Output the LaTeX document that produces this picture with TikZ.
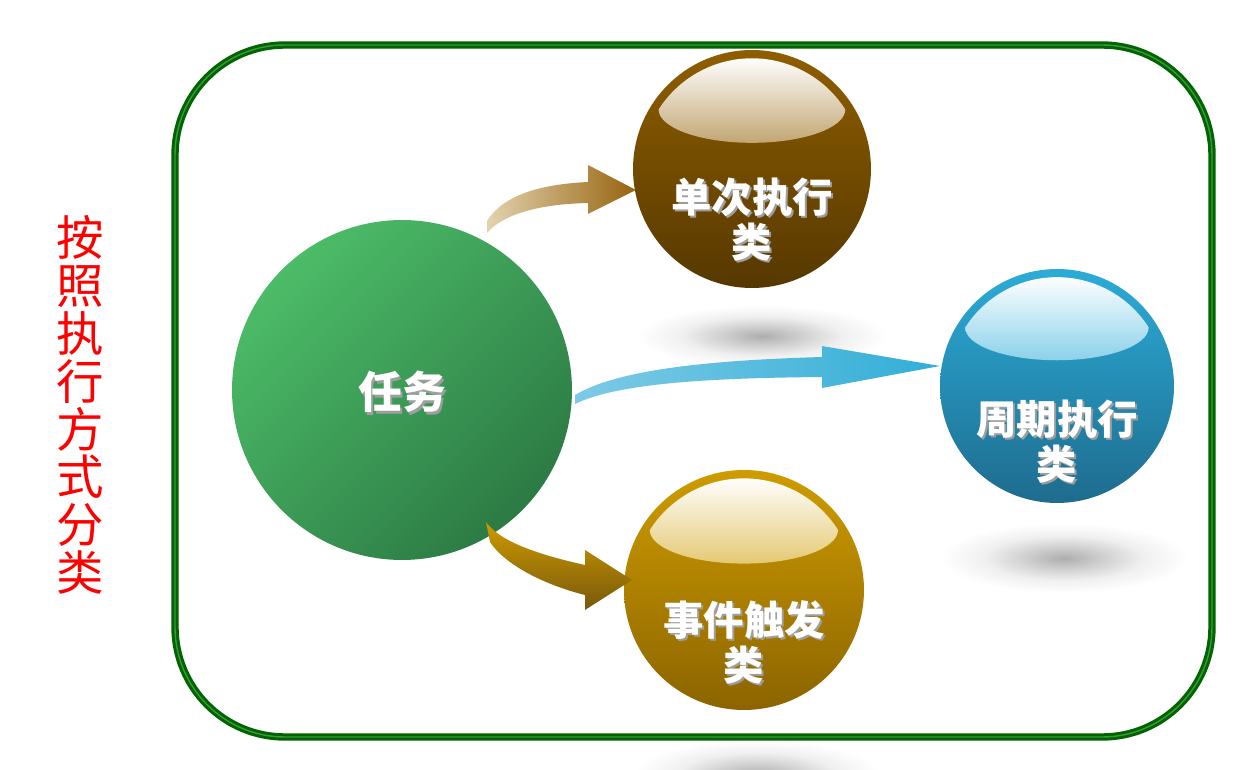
\documentclass[tikz,border=0pt]{standalone}
\usepackage{fontspec}
\newfontfamily\cjk{Noto Sans CJK SC}
\usepackage{tikz}
\usetikzlibrary{calc}
\definecolor{frameD}{RGB}{0,100,0}
\definecolor{frameL}{RGB}{60,150,60}
\definecolor{taskL}{RGB}{76,188,104}
\definecolor{taskD}{RGB}{44,122,68}
\definecolor{onceT}{RGB}{142,94,0}
\definecolor{onceB}{RGB}{86,56,0}
\definecolor{periodT}{RGB}{44,172,216}
\definecolor{periodB}{RGB}{30,108,142}
\definecolor{eventT}{RGB}{206,156,0}
\definecolor{eventB}{RGB}{140,100,0}
\definecolor{arrTanL}{RGB}{228,210,175}
\definecolor{arrTanR}{RGB}{150,100,15}
\definecolor{arrBlueL}{RGB}{125,202,230}
\definecolor{arrBlueR}{RGB}{50,174,214}
\definecolor{arrGoldT}{RGB}{205,155,0}
\definecolor{arrGoldB}{RGB}{120,88,12}
\definecolor{sideRed}{RGB}{255,0,0}
\pgfdeclareradialshading{floorshade}{\pgfpoint{0bp}{0bp}}{color(0bp)=(black!32); color(7bp)=(black!20); color(16bp)=(black!6); color(25bp)=(white); color(50bp)=(white)}

\begin{document}
\begin{tikzpicture}[
    x=0.02cm, y=-0.02cm,
    ball/.style={circle, inner sep=0pt},
    tag/.style={font=\cjk\bfseries\fontsize{23}{25.6}\selectfont, text=white, align=center},
    tagsh/.style={tag, text=black!38},
    floor/.style={shading=floorshade},
    frame/.style={draw=frameD, double=frameL, double distance=0.8pt, line width=1.7pt, rounded corners=2.2cm}
]
    \useasboundingbox (0,0) rectangle (1249,770);

    \begin{scope}
        \clip (0,0) rectangle (1249,770);
        \shade[floor] (762,336) ellipse [x radius=125, y radius=31];
        \shade[floor] (1064,558) ellipse [x radius=124, y radius=35];
        \shade[floor] (757,775) ellipse [x radius=124, y radius=35];
    \end{scope}

    \draw[frame] (175,45) rectangle (1212,737);

    \node[font=\cjk\fontsize{27}{27.2}\selectfont, text=sideRed, align=center] (side) at (80,405)
        {按\\照\\执\\行\\方\\式\\分\\类};

    \node[ball, minimum size=6.8cm, top color=taskL, bottom color=taskD, shading angle=45] (task) at (402,390) {};
    \node[ball, minimum size=4.76cm, top color=onceT, bottom color=onceB] (once) at (752,169) {};
    \node[ball, minimum size=4.68cm, top color=periodT, bottom color=periodB] (period) at (1057,386) {};
    \node[ball, minimum size=4.8cm, top color=eventT, bottom color=eventB] (event) at (744,590) {};

    \foreach \n/\r/\c in {once/119/onceT, period/117/periodT, event/120/eventT}
        \shade[top color=white, bottom color=\c!55!white] ($(\n.center)+(0.784*\r,-0.5*\r)$)
            arc[start angle=-32.5, end angle=-147.5, radius=0.93*\r]
            arc[start angle=180, end angle=0, x radius=0.784*\r, y radius=0.28*\r] -- cycle;

    \coordinate (onceTail) at (487,233);
    \coordinate (onceTip) at (636,190);
    \coordinate (periodTail) at (575,404);
    \coordinate (periodTip) at (940,366);
    \coordinate (eventTail) at (486,522);
    \coordinate (eventTip) at (632,580);

    \shade[left color=arrTanL, right color=arrTanR] (487,221) .. controls (505,192) and (548,184) .. (588,182)
        -- (588,165) -- (onceTip) -- (588,214) -- (588,203) .. controls (545,204) and (505,212) .. (onceTail) -- cycle;
    \shade[left color=arrBlueL, right color=arrBlueR] (575,395) .. controls (620,368) and (720,360) .. (822,357)
        -- (822,346) -- (periodTip) -- (822,388) -- (822,377) .. controls (720,378) and (620,382) .. (periodTail) -- cycle;
    \shade[top color=arrGoldT, bottom color=arrGoldB] (eventTail) .. controls (500,542) and (540,555) .. (585,565)
        -- (585,550) -- (eventTip) -- (585,610) -- (585,595) .. controls (545,585) and (505,565) .. (490,542) -- cycle;

    \node[tagsh, font=\cjk\bfseries\fontsize{25}{28}\selectfont] (tasksh) at ($(task)+(2.5,4.5)$) {任务};
    \node[tag, font=\cjk\bfseries\fontsize{25}{28}\selectfont] (tasktx) at ($(task)+(0,2)$) {任务};
    \node[tagsh] (oncesh) at (754,222) {单次执行\\类};
    \node[tag] (oncetx) at (752,220) {单次执行\\类};
    \node[tagsh] (periodsh) at (1059,444) {周期执行\\类};
    \node[tag] (periodtx) at (1057,442) {周期执行\\类};
    \node[tagsh] (eventsh) at (746,644) {事件触发\\类};
    \node[tag] (eventtx) at (744,642) {事件触发\\类};
\end{tikzpicture}
\end{document}
